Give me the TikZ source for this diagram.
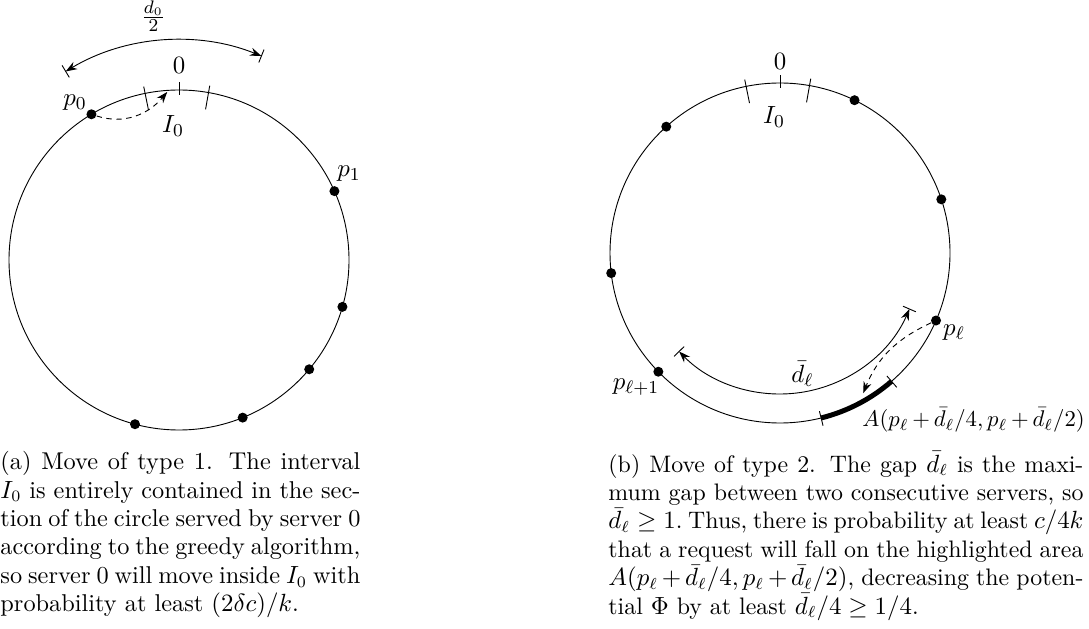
\documentclass[tikz,border=0pt]{standalone}
\usepackage{tikz}
\usetikzlibrary{arrows.meta,calc}

\begin{document}
\begin{tikzpicture}[x=0.44pt, y=0.44pt,
  srv/.style={circle, fill, inner sep=0pt, minimum size=4.4pt},
  etiq/.style={font=\fontsize{11}{13}\selectfont},
  flecha/.style={{Stealth[length=5pt,width=3.6pt]}-{Stealth[length=5pt,width=3.6pt]}},
  salto/.style={dash pattern=on 2.4pt off 2pt, -{Stealth[length=5pt,width=3.6pt]}},
  leyenda/.style={anchor=north west, inner sep=0pt, align=justify,
                  font=\fontsize{10.7}{12.5}\selectfont}
]
  \useasboundingbox (0,0) rectangle (1089,628);

  \begin{scope}[shift={(179,368)}]
    \draw (0,0) circle (170);
    \draw (90:165) -- (90:178);
    \draw (101.5:153) -- (101.5:177);
    \draw (80:153) -- (80:177);
    \node[etiq] (cero1) at (90:195) {$0$};
    \node[etiq] (ia) at (-6,134) {$I_0$};
    \draw[flecha] (121:220) arc[start angle=121, end angle=68, radius=220];
    \draw (121:213) -- (121:227);
    \draw (68:213) -- (68:227);
    \node[etiq] (mitad) at (96:245) {$\frac{d_0}{2}$};
    \node[srv] (p0) at (121:170) {};
    \node[srv] (p1) at (23.9:170) {};
    \node[srv] (s2) at (-16:170) {};
    \node[srv] (s3) at (-40:170) {};
    \node[srv] (s4) at (-68:170) {};
    \node[srv] (s5) at (-105:170) {};
    \node[etiq] (lp0) at (-104,157) {$p_0$};
    \node[etiq] (lp1) at (170,86) {$p_1$};
    \coordinate (t0) at (94:168.5);
    \draw[salto] (p0) to[out=-18, in=-130] (t0);
  \end{scope}

  \begin{scope}[shift={(780,375)}]
    \draw (0,0) circle (170);
    \draw (90:165) -- (90:178);
    \draw (101.5:153) -- (101.5:177);
    \draw (80:153) -- (80:177);
    \node[etiq] (cero2) at (90:192) {$0$};
    \node[etiq] (ib) at (-6,136) {$I_0$};
    \node[srv] (q1) at (132:170) {};
    \node[srv] (q2) at (64:170) {};
    \node[srv] (q3) at (18.4:170) {};
    \node[srv] (q4) at (186.8:170) {};
    \node[srv] (pl) at (-23.4:170) {};
    \node[srv] (plm) at (224.3:170) {};
    \node[etiq] (lpl) at (174,-80) {$p_\ell$};
    \node[etiq] (lplm) at (-144,-134) {$p_{\ell+1}$};
    \draw[flecha] (-23.4:141) arc[start angle=-23.4, end angle=-135.7, radius=141];
    \draw (-23.4:134) -- (-23.4:148);
    \draw (-135.7:134) -- (-135.7:148);
    \node[etiq] (dl) at (-79.5:123) {$\bar d_\ell$};
    \draw[line width=2.2pt] (-49:170) arc[start angle=-49, end angle=-76, radius=170];
    \draw (-49:163) -- (-49:178);
    \draw (-76:163) -- (-76:178);
    \node[anchor=west, inner sep=0pt, font=\fontsize{10.4}{12}\selectfont] (area) at (82,-167)
      {$A(p_\ell\,{+}\,\bar d_\ell/4, p_\ell\,{+}\,\bar d_\ell/2)$};
    \coordinate (tA) at (-59.3:163);
    \draw[salto] (pl) to[out=205, in=68] (tA);
  \end{scope}

  \node[leyenda, text width=158.4pt] (capa) at (0,177) {(a) Move of type 1.  The interval\linebreak
    $I_0$ is entirely contained in the sec-\linebreak
    tion of the circle served by server 0\linebreak
    according to the greedy algorithm,\linebreak
    so server 0 will move inside $I_0$ with\linebreak
    probability at least $(2\delta c)/k$.};
  \node[leyenda, text width=209pt, font=\fontsize{10.5}{12.5}\selectfont] (capb) at (608,177) {(b) Move of type 2.  The gap $\bar d_\ell$ is the maxi-\linebreak
    mum gap between two consecutive servers, so\linebreak
    ${\bar d_\ell \geq 1}$.~Thus,~there~is~probability~at~least~$c/4k$\linebreak
    that a request will fall on the highlighted area\linebreak
    $A(p_\ell + \bar d_\ell/4, p_\ell + \bar d_\ell/2)$, decreasing the poten-\linebreak
    tial $\Phi$ by at least $\bar d_\ell/4 \geq 1/4$.};
\end{tikzpicture}
\end{document}
